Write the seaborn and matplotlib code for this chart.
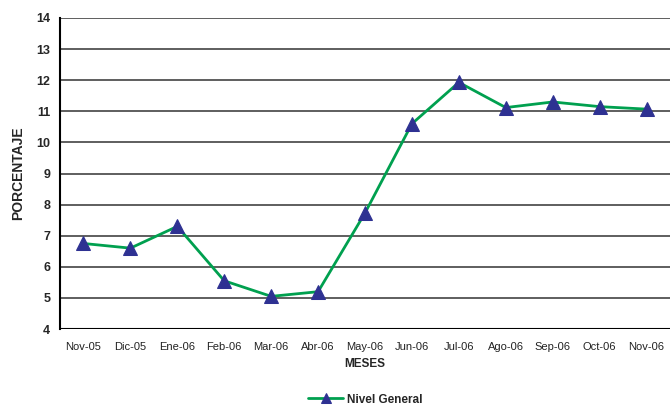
import numpy as np
import pandas as pd
import matplotlib
matplotlib.use("Agg")
import matplotlib.pyplot as plt
import seaborn as sns

meses = ["Nov-05", "Dic-05", "Ene-06", "Feb-06", "Mar-06", "Abr-06", "May-06",
         "Jun-06", "Jul-06", "Ago-06", "Sep-06", "Oct-06", "Nov-06"]
nivel_general = [6.75, 6.6, 7.3, 5.55, 5.05, 5.2, 7.73,
                 10.6, 11.93, 11.12, 11.3, 11.15, 11.07]

df = pd.DataFrame({"mes": meses, "valor": nivel_general})

sns.set_style("white")
plt.rcParams["font.family"] = ["Liberation Sans", "DejaVu Sans"]

fig = plt.figure(figsize=(6.7, 4.08), dpi=100)
ax = fig.add_axes([0.0896, 0.1936, 0.9104, 0.7623])

sns.lineplot(data=df, x="mes", y="valor", sort=False, ax=ax,
             color="#00A04F", linewidth=2, marker="^", markersize=10,
             markerfacecolor="#2E3192", markeredgecolor="#2E3192",
             label="Nivel General", legend=False)

ax.set_ylim(4, 14)
ax.set_yticks(range(4, 15))
ax.set_xlim(-0.5, len(meses) - 0.5)
ax.yaxis.grid(True, color="#333333", linewidth=1.1)
ax.set_axisbelow(True)

for s in ["top", "right", "bottom"]:
    ax.spines[s].set_visible(False)
ax.spines["left"].set_color("black")
ax.spines["left"].set_linewidth(1.5)
ax.axhline(4, color="black", linewidth=1.5, zorder=3)

ax.tick_params(axis="y", which="major", direction="out", length=4, width=1,
               color="black", labelsize=9, pad=3)
for lbl in ax.get_yticklabels():
    lbl.set_fontweight("bold")

ax.set_xticks(np.arange(len(meses)))
ax.set_xticklabels(meses, fontsize=8, color="#222222")
ax.tick_params(axis="x", which="major", length=0, pad=9)
ax.set_xticks(np.arange(-0.5, len(meses), 1), minor=True)
ax.tick_params(axis="x", which="minor", direction="out", length=4, width=1,
               color="black")

ax.set_xlabel("MESES", fontsize=8.5, fontweight="bold", labelpad=5)
ax.set_ylabel("PORCENTAJE", fontsize=10, fontweight="bold", labelpad=8)

handles, labels = ax.get_legend_handles_labels()
leg = fig.legend(handles, labels, loc="lower center", bbox_to_anchor=(0.545, -0.02),
                 frameon=False, prop={"size": 8.5, "weight": "bold"},
                 handlelength=3, handletextpad=0.3, markerscale=0.75)

fig.savefig("out.png", dpi=100)
